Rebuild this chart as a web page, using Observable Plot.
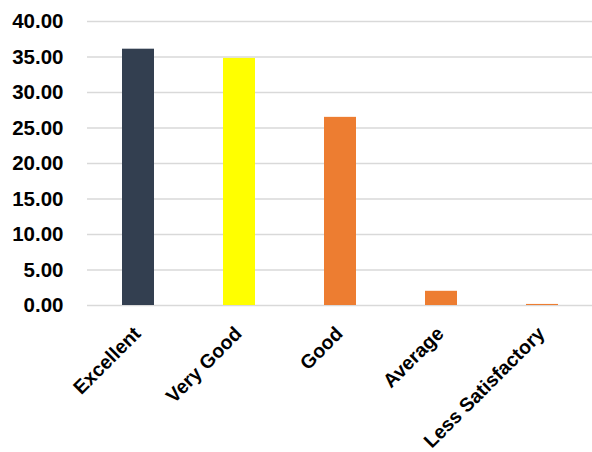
<!DOCTYPE html>
<html>
<head>
<meta charset="utf-8">
<script src="https://cdn.jsdelivr.net/npm/d3@7"></script>
<script src="https://cdn.jsdelivr.net/npm/@observablehq/plot@0.6"></script>
<style>
  html, body { margin: 0; padding: 0; background: #fff; }
</style>
</head>
<body>
<div id="chart"></div>
<script>
const categories = ["Excellent", "Very Good", "Good", "Average", "Less Satisfactory"];
const values = [36.1, 34.8, 26.5, 2.0, 0.15];
const barColors = ["#333f50", "#ffff00", "#ed7d31", "#ed7d31", "#ed7d31"];
const yTicks = [0, 5, 10, 15, 20, 25, 30, 35, 40];

const data = categories.map((c, i) => ({ category: c, value: values[i], color: barColors[i] }));

const chart = Plot.plot({
  width: 592,
  height: 452,
  marginLeft: 87,
  marginRight: 0,
  marginTop: 21,
  marginBottom: 147,
  style: { fontFamily: "'Liberation Sans', Arial, sans-serif", fontWeight: "bold", fontSize: "20px", color: "#000", background: "#fff" },
  x: { domain: categories, paddingInner: 0.684, paddingOuter: 0.342, label: null },
  y: { domain: [0, 40], label: null },
  color: { type: "identity" },
  marks: [
    Plot.gridY({ ticks: yTicks, stroke: "#d9d9d9", strokeOpacity: 1, strokeWidth: 1.5 }),
    Plot.barY(data, { x: "category", y: "value", fill: "color" }),
    Plot.axisY({ ticks: yTicks, tickFormat: d => d.toFixed(2), tickSize: 0, tickPadding: 24, fontSize: 20.5, fontWeight: "bold", label: null }),
    Plot.axisX({ tickRotate: -45, tickSize: 0, tickPadding: 25, dx: -1, fontSize: 19.5, fontWeight: "bold", label: null })
  ]
});
document.getElementById("chart").appendChild(chart);
</script>
</body>
</html>
